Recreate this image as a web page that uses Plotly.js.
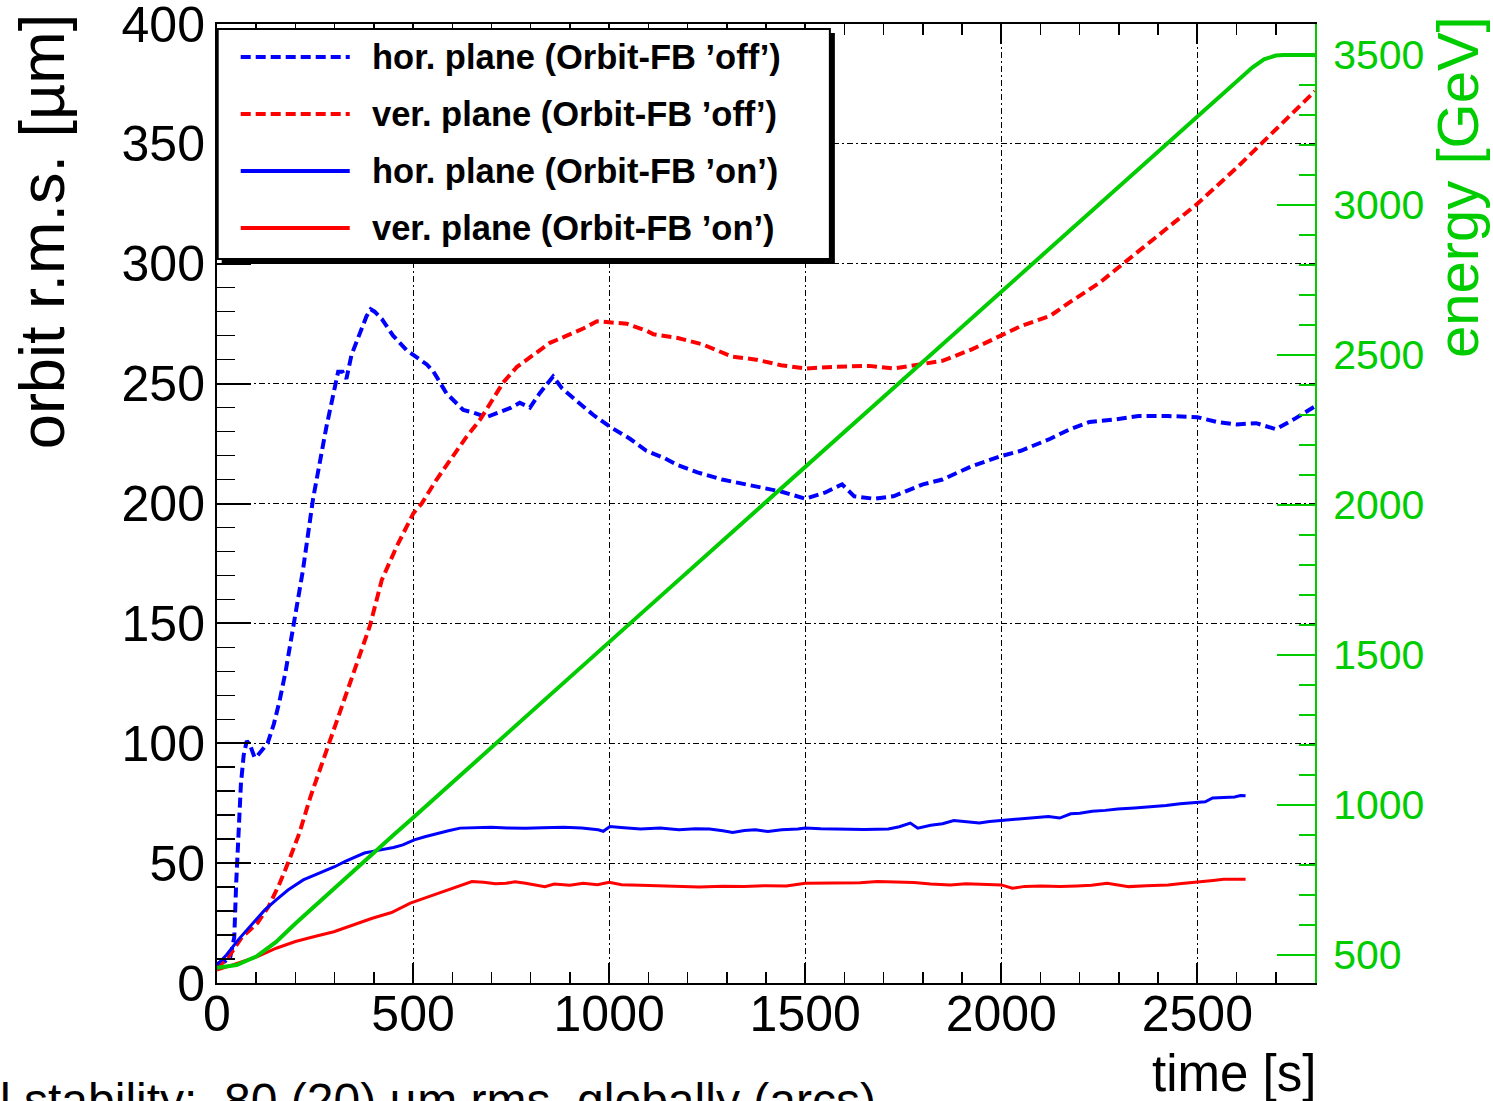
<!DOCTYPE html>
<html>
<head>
<meta charset="utf-8">
<script src="https://cdn.plot.ly/plotly-3.0.1.min.js"></script>
<style>html,body{margin:0;padding:0;background:#fff;overflow:hidden}#chart{width:1493px;height:1101px}</style>
</head>
<body>
<div id="chart"></div>
<script>
// ---- data ----
var horOffT = [0,20,34,44,49,54,61,68,76,85,96,104,115,129,145,160,175,195,219,245,262,279,296,309,320,330,343,364,381,392,402,420,449,483,517,535,552,585,628,653,687,721,750,772,798,823,857,880,908,959,1002,1053,1095,1140,1175,1225,1288,1375,1438,1500,1550,1594,1625,1675,1725,1800,1850,1925,2000,2050,2125,2175,2225,2288,2350,2425,2500,2550,2600,2650,2700,2750,2800];
var horOffV = [8,9,11,19,42,58,83,95,101,99,94,95,97,100,108,118,130,149,172,202,218,232,245,255,255,252,262,271,278,281,280,277,270,264,260,258,255,246,239,238,236,238,240,242,240,246,253,248,244,237,232,227,222,219,216,213,210,207,205,202,204.5,208,203,202,203,208,210,215.6,219.8,222,227,231,234,235,236.5,236.5,236,234,233,233.5,231,235.5,240.5];

var verOffT = [0,34,63,103,132,161,181,210,239,269,300,330,360,390,420,458,501,522,560,603,637,671,705,730,765,807,849,892,934,969,1003,1045,1096,1113,1175,1238,1313,1375,1438,1500,1575,1663,1725,1800,1850,1925,2000,2050,2125,2175,2250,2325,2400,2500,2600,2700,2800];
var verOffV = [6,12,19,25,32,42,50,62.5,78,92,106,120,134,149,168,182,196,200,210,220,228,235,243.5,250.5,257,262,267,270,273,276,275.5,275,272,270.6,269,266.4,261.3,260,257.7,256.3,257,257.4,256.3,258,259.5,264.3,270,274,278.3,284,292,302,312,325,340,356,372];

var horOnT = [0,24,54,83,122,151,181,220,250,278,300,327,350,376,400,425,450,474,503,530,562,590,620,660,699,740,787,830,884,930,972,985,1002,1030,1080,1130,1178,1220,1256,1290,1315,1345,1373,1405,1440,1481,1500,1540,1591,1650,1712,1740,1768,1787,1820,1850,1879,1910,1944,1970,2000,2050,2093,2120,2149,2177,2200,2232,2265,2297,2340,2381,2420,2456,2500,2520,2539,2570,2595,2610,2623];
var horOnV = [7.5,11.7,18,23.5,30.5,34.7,38.8,43,45,47.2,48.5,50.7,52.5,54.2,55,55.6,56.5,57.6,59.7,61,62.5,63.5,64.6,64.8,65,64.7,64.5,64.8,65,64.6,63.9,63.3,65.3,64.9,64.2,64.6,63.9,64.3,64.2,63.5,62.8,63.6,63.9,63.2,63.9,64.2,64.6,64.3,64.2,64.0,64.2,65.2,66.7,64.6,65.8,66.4,67.8,67.4,66.7,67.4,67.8,68.2,68.8,69.4,68.8,70.6,70.8,71.6,72.0,72.6,73.0,73.4,74.0,74.8,75.3,75.6,77.2,77.4,77.6,78.2,78.1];

var verOnT = [0,54,103,151,200,249,298,347,396,445,493,542,601,650,680,710,737,760,787,810,836,860,900,934,970,1000,1032,1080,1130,1178,1230,1290,1344,1400,1452,1500,1550,1591,1640,1684,1730,1777,1820,1870,1910,1952,2000,2028,2060,2102,2150,2193,2230,2270,2300,2325,2370,2425,2460,2500,2540,2567,2600,2623];
var verOnV = [5.4,8.2,11,14.5,17.3,19.4,21.4,24.2,27,29.4,33.3,36.1,39.6,42.3,42.0,41.4,41.6,42.2,41.6,41.0,40.2,41.3,40.8,41.6,41.0,42.0,41.0,40.8,40.6,40.2,40.0,40.4,40.2,40.6,40.5,41.6,41.6,41.9,41.8,42.3,42.0,41.9,41.3,40.9,41.4,41.3,40.9,39.5,40.3,40.5,40.2,40.5,40.8,41.6,40.9,40.2,40.6,40.9,41.5,42.3,42.8,43.3,43.2,43.3];

var energyT = [0,50,100,150,200,250,300,350,400,450,500,1000,1500,2000,2500,2550,2600,2640,2670,2700,2720,2800];
var energyE = [458,467,495,543,605,665,724,783,841,900,958,1543,2128,2713,3298,3357,3415,3458,3485,3498,3500,3500];

var yTickVals = [0,50,100,150,200,250,300,350,400];
var seriesNames = ["hor. plane (Orbit-FB \u2019off\u2019)","ver. plane (Orbit-FB \u2019off\u2019)","hor. plane (Orbit-FB \u2019on\u2019)","ver. plane (Orbit-FB \u2019on\u2019)"];
var xTitle = "time [s]";
var yTitle = "orbit r.m.s. [\u00b5m]";
var y2Title = "energy [GeV]";
var footText = "l stability:  80 (20) \u00b5m rms, globally (arcs)";

// ---- styling ----
var BLUE = "#0000ff", RED = "#ff0000", GREEN = "#00cc00";
var FONT = "Liberation Sans, Arial, Helvetica, sans-serif";
var DASH = "10px,5px";

var traces = [
  {x: horOffT, y: horOffV, name: seriesNames[0], mode: "lines", line: {color: BLUE, width: 4, dash: DASH}, showlegend: false},
  {x: verOffT, y: verOffV, name: seriesNames[1], mode: "lines", line: {color: RED, width: 4, dash: DASH}, showlegend: false},
  {x: horOnT, y: horOnV, name: seriesNames[2], mode: "lines", line: {color: BLUE, width: 3}, showlegend: false},
  {x: verOnT, y: verOnV, name: seriesNames[3], mode: "lines", line: {color: RED, width: 3}, showlegend: false},
  {x: energyT, y: energyE, name: "energy", yaxis: "y2", mode: "lines", line: {color: GREEN, width: 4}, showlegend: false}
];

// pixel helpers for the plot frame (paper coordinates)
var PL = 217.3, PW = 1097.7, PB = 983, PH = 959;
function px(x){ return (x - PL) / PW; }
function py(y){ return (PB - y) / PH; }

var shapes = [];
var annotations = [];
// legend box with shadow
shapes.push({type: "rect", xref: "paper", yref: "paper", x0: px(222), x1: px(835), y0: py(264), y1: py(33), fillcolor: "#000", line: {width: 0}, layer: "above"});
shapes.push({type: "rect", xref: "paper", yref: "paper", x0: px(218), x1: px(830), y0: py(259), y1: py(29), fillcolor: "#fff", line: {color: "#000", width: 2}, layer: "above"});
var legRows = [57, 114, 171, 228];
var legStyles = [
  {color: BLUE, width: 4, dash: DASH},
  {color: RED, width: 4, dash: DASH},
  {color: BLUE, width: 4},
  {color: RED, width: 4}
];
for (var i = 0; i < 4; i++) {
  shapes.push({type: "line", xref: "paper", yref: "paper", x0: px(241), x1: px(350), y0: py(legRows[i]), y1: py(legRows[i]), line: legStyles[i], layer: "above"});
  annotations.push({xref: "paper", yref: "paper", x: px(370), y: py(legRows[i]), xanchor: "left", yanchor: "middle", text: "<b>" + seriesNames[i] + "</b>", showarrow: false, font: {family: FONT, size: 34.5, color: "#000"}});
}
// axis titles
annotations.push({xref: "paper", yref: "paper", x: px(42), y: py(12), xanchor: "center", yanchor: "top", textangle: -90, text: yTitle, showarrow: false, font: {family: FONT, size: 63, color: "#000"}});
annotations.push({xref: "paper", yref: "paper", x: px(1457), y: py(14), xanchor: "center", yanchor: "top", textangle: -90, text: y2Title, showarrow: false, font: {family: FONT, size: 58, color: GREEN}});
annotations.push({xref: "paper", yref: "paper", x: px(1318), y: py(1073), xanchor: "right", yanchor: "middle", text: xTitle, showarrow: false, font: {family: FONT, size: 51, color: "#000"}});
annotations.push({xref: "paper", yref: "paper", x: px(-2), y: py(1100), xanchor: "left", yanchor: "middle", text: footText, showarrow: false, font: {family: FONT, size: 48, color: "#000"}});

var layout = {
  width: 1493, height: 1101,
  margin: {l: 217, r: 178, t: 24, b: 118, pad: 0},
  paper_bgcolor: "#fff", plot_bgcolor: "#fff",
  showlegend: false,
  font: {family: FONT, color: "#000"},
  xaxis: {
    range: [0, 2800], tick0: 0, dtick: 500, ticks: "inside", ticklen: 20, tickwidth: 2, tickcolor: "#000",
    minor: {dtick: 100, ticks: "inside", ticklen: 11, tickwidth: 1.5, tickcolor: "#000", showgrid: false},
    showline: true, linecolor: "#000", linewidth: 2, mirror: "ticks",
    showgrid: true, gridcolor: "#000", gridwidth: 1, griddash: "6px,3px,2px,3px",
    zeroline: false, tickfont: {family: FONT, size: 50, color: "#000"}, ticklabelstandoff: -14
  },
  yaxis: {
    range: [0, 400], tickmode: "array", tickvals: yTickVals, ticktext: yTickVals.map(String),
    ticks: "inside", ticklen: 34, tickwidth: 2, tickcolor: "#000",
    minor: {dtick: 10, tick0: 0, ticks: "inside", ticklen: 18, tickwidth: 1.5, tickcolor: "#000", showgrid: false},
    showline: true, linecolor: "#000", linewidth: 2,
    showgrid: true, gridcolor: "#000", gridwidth: 1, griddash: "6px,3px,2px,3px",
    zeroline: false, tickfont: {family: FONT, size: 50, color: "#000"}, ticklabeloverflow: "allow"
  },
  yaxis2: {
    overlaying: "y", side: "right", anchor: "x",
    range: [407, 3603], tick0: 500, dtick: 500, ticks: "inside", ticklen: 38, tickwidth: 2, tickcolor: GREEN,
    minor: {dtick: 100, ticks: "inside", ticklen: 16, tickwidth: 1.5, tickcolor: GREEN, showgrid: false},
    showline: true, linecolor: GREEN, linewidth: 2,
    showgrid: false, zeroline: false,
    tickfont: {family: FONT, size: 41, color: GREEN}, ticklabelstandoff: 8
  },
  shapes: shapes,
  annotations: annotations
};

Plotly.newPlot("chart", traces, layout, {displayModeBar: false, staticPlot: true});
</script>
</body>
</html>
